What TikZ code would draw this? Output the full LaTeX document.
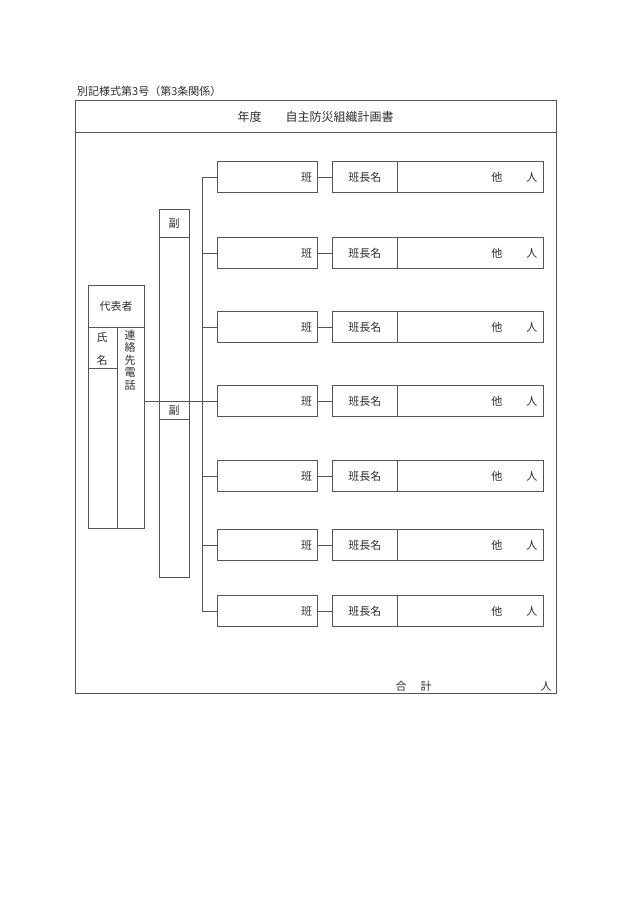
\documentclass[tikz,border=0pt]{standalone}
\usepackage{fontspec}
\setmainfont{Noto Sans CJK JP}
\usetikzlibrary{positioning}
\definecolor{FormLine}{RGB}{85,85,85}
\definecolor{FormText}{RGB}{45,45,45}

\begin{document}
\begin{tikzpicture}[x=1pt, y=-1pt,
    line/.style={draw=FormLine, line width=0.9pt},
    cell/.style={rectangle, line, inner sep=0pt, minimum height=31pt},
    hanbox/.style={cell, minimum width=100pt},
    chiefbox/.style={cell, minimum width=65pt},
    otherbox/.style={cell, minimum width=146pt},
    lbl/.style={font=\fontsize{11}{11}\selectfont, text=FormText, inner sep=0pt},
    ttl/.style={font=\fontsize{12}{12}\selectfont, text=FormText, inner sep=0pt}
  ]
  \useasboundingbox (0,0) rectangle (630,915);

  % heading and frame
  \node[lbl, anchor=west] (formno) at (77,91) {別記様式第3号（第3条関係）};
  \draw[line] (75,100) rectangle (556,693);
  \draw[line] (75,132) -- (556,132);
  \node[ttl] (title) at (315.5,117) {年度\hspace{2em}自主防災組織計画書};

  % representative
  \node[line, inner sep=0pt, minimum width=56pt, minimum height=243pt,
        anchor=north west] (rep) at (88,285) {};
  \draw[line] (88,327) -- (144,327);
  \draw[line] (117,327) -- (117,528);
  \draw[line] (88,368) -- (117,368);
  \node[lbl] (replbl) at (116,306) {代表者};
  \node[lbl] (shi) at (102,337) {氏};
  \node[lbl] (mei) at (102,360) {名};
  \foreach \c [count=\k] in {連,絡,先,電,話}
    \node[lbl] (tel\k) at (130,{335+12.6*(\k-1)}) {\c};

  % vice leaders
  \node[line, inner sep=0pt, minimum width=30pt, minimum height=368pt,
        anchor=north west] (vice) at (159,209) {};
  \draw[line] (159,237) -- (189,237);
  \draw[line] (159,419) -- (189,419);
  \node[lbl] (vice1) at (174,223) {副};
  \node[lbl] (vice2) at (174,410) {副};

  % teams
  \foreach \i/\y in {1/177, 2/253, 3/327, 4/401, 5/476, 6/545, 7/611}{
    \coordinate (trunk\i) at (202,\y);
    \node[hanbox, anchor=west] (han\i) at (217,\y) {};
    \node[chiefbox, right=14pt of han\i] (chief\i) {\fontsize{11}{11}\selectfont\color{FormText}班長名};
    \node[otherbox, right=-0.9pt of chief\i] (oth\i) {};
    \node[lbl, anchor=east] (hanlbl\i) at ([xshift=-5.5pt]han\i.east) {班};
    \node[lbl] (ta\i) at ([xshift=-47pt]oth\i.east) {他};
    \node[lbl] (nin\i) at ([xshift=-12pt]oth\i.east) {人};
    \draw[line] (han\i) -- (chief\i);
    \draw[line] (trunk\i) -- (han\i.west);
  }
  \draw[line] (trunk1) -- (trunk7);

  % representative to teams
  \coordinate (repout) at (144,401);
  \draw[line] (repout) -- (han4.west);

  % total
  \node[lbl] (go) at (401,686) {合};
  \node[lbl] (kei) at (426,686) {計};
  \node[lbl] (total) at (546,686) {人};
\end{tikzpicture}
\end{document}
